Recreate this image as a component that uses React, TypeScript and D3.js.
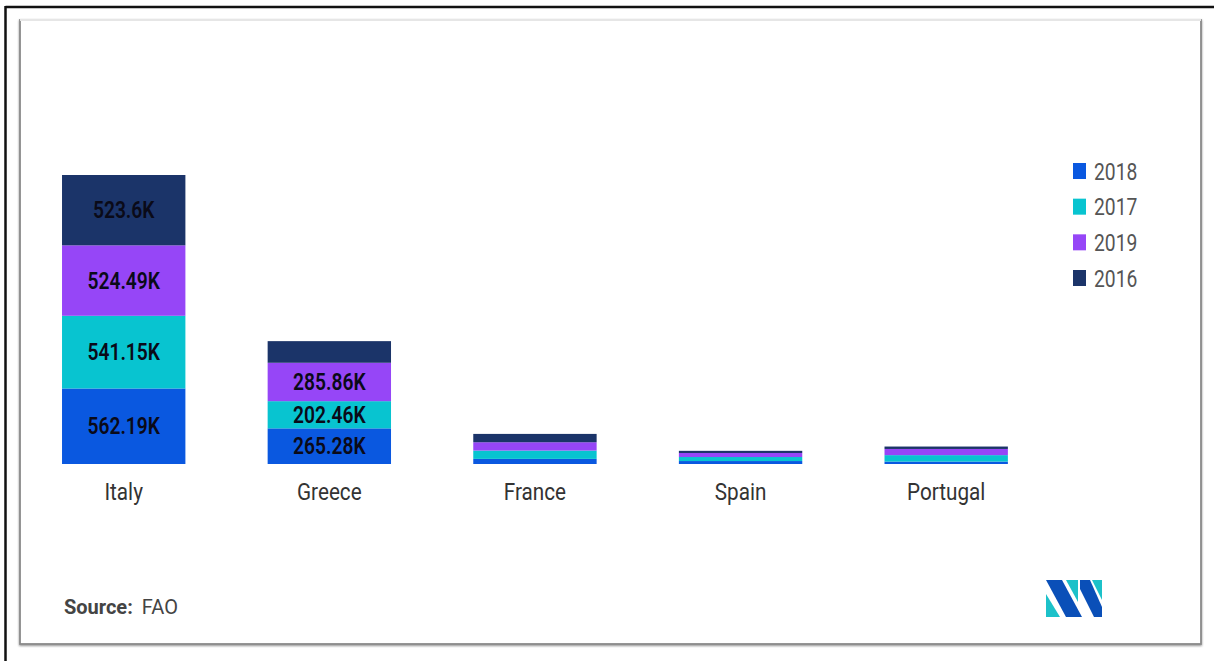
import React from "react";
import * as d3 from "d3";

const categories = ["Italy", "Greece", "France", "Spain", "Portugal"];
const seriesKeys = ["2018", "2017", "2019", "2016"];
const values2018 = [562.19, 265.28, 38, 22, 18];
const values2017 = [541.15, 202.46, 62, 30, 48];
const values2019 = [524.49, 285.86, 62, 30, 46];
const values2016 = [523.6, 161, 62, 16, 18];
const seriesColors = ["#0a58e0", "#08c4d0", "#9646f7", "#1b3469"];
const legendLabels = ["2018", "2017", "2019", "2016"];

const W = 1214;
const H = 661;

export default function App() {
  const rows = categories.map((c, i) => ({
    category: c,
    "2018": values2018[i],
    "2017": values2017[i],
    "2019": values2019[i],
    "2016": values2016[i],
  }));
  const stack = d3.stack<any>().keys(seriesKeys);
  const stacked = stack(rows);
  const maxTotal = d3.max(rows, (r: any) => r["2018"] + r["2017"] + r["2019"] + r["2016"]) as number;

  const x = d3
    .scaleBand()
    .domain(categories)
    .range([20.9, 1049])
    .paddingInner(0.4)
    .paddingOuter(0.2);
  const y = d3.scaleLinear().domain([0, maxTotal]).range([464, 175]);
  const color = d3.scaleOrdinal<string, string>().domain(seriesKeys).range(seriesColors);
  const fmt = (v: number) => `${v}K`;

  const legendY = d3.scalePoint().domain(legendLabels).range([171, 278]);

  return (
    <svg
      width={W}
      height={H}
      style={{ position: "absolute", left: 0, top: 0, background: "#fff" }}
      fontFamily="Roboto, 'Noto Sans', sans-serif"
    >
      <defs>
        <filter id="shadow" x="-5%" y="-5%" width="110%" height="115%">
          <feDropShadow dx="0" dy="1" stdDeviation="1.2" floodColor="#000" floodOpacity="0.45" />
        </filter>
      </defs>
      <rect x={0} y={0} width={W} height={H} fill="#fff" />
      {/* outer black frame */}
      <line x1={5.5} y1={7} x2={W} y2={7} stroke="#111" strokeWidth={2.5} />
      <line x1={5.5} y1={6} x2={5.5} y2={H} stroke="#111" strokeWidth={2.5} />
      {/* card */}
      <rect x={20} y={20} width={1181} height={624} fill="#fff" stroke="#8a8a8a" strokeWidth={1.8} filter="url(#shadow)" />
      <line x1={20} y1={20} x2={1201} y2={20} stroke="#e6e6e6" strokeWidth={2} />

      {/* bars */}
      {stacked.map((s: any) => (
        <g key={s.key}>
          {s.map((d: any, i: number) => {
            const cat = categories[i];
            const y0 = y(d[0]);
            const y1 = y(d[1]);
            const h = y0 - y1;
            const cx = (x(cat) as number) + x.bandwidth() / 2;
            return (
              <g key={cat}>
                <rect x={x(cat)} y={y1} width={x.bandwidth()} height={h} fill={color(s.key)} />
                {h >= 25 && (
                  <g transform={`translate(${cx},${(y0 + y1) / 2 + 8}) scale(0.8,1)`}>
                    <text textAnchor="middle" fontSize={24} fontWeight={600} fill="#0a0a18">
                      {fmt(d.data[s.key])}
                    </text>
                  </g>
                )}
              </g>
            );
          })}
        </g>
      ))}

      {/* category labels */}
      {categories.map((c) => (
        <g key={c} transform={`translate(${(x(c) as number) + x.bandwidth() / 2},500) scale(0.9,1)`}>
          <text textAnchor="middle" fontSize={23} fill="#333">
            {c}
          </text>
        </g>
      ))}

      {/* legend */}
      {legendLabels.map((k) => {
        const cy = legendY(k) as number;
        return (
          <g key={k}>
            <rect x={1073} y={cy - 8} width={13} height={16} fill={color(k)} />
            <g transform={`translate(1094,${cy + 8.5}) scale(0.84,1)`}>
              <text fontSize={23} fill="#555">
                {k}
              </text>
            </g>
          </g>
        );
      })}

      {/* source */}
      <text x={64} y={614} fontSize={20} fill="#444">
        <tspan fontWeight={700}>Source:</tspan>
        <tspan dx={9}>FAO</tspan>
      </text>

      {/* logo */}
      <g>
        <polygon points="1046,594 1046,617 1060,617" fill="#1cc1c9" />
        <polygon points="1046,580 1062,580 1082,617 1066,617" fill="#0a4fb8" />
        <polygon points="1066,580 1078,580 1078,602" fill="#1cc1c9" />
        <polygon points="1080,580 1090,580 1102,607 1102,617 1094,617 1080,589" fill="#0a4fb8" />
        <polygon points="1092,580 1102,580 1102,600" fill="#1cc1c9" />
      </g>
    </svg>
  );
}
